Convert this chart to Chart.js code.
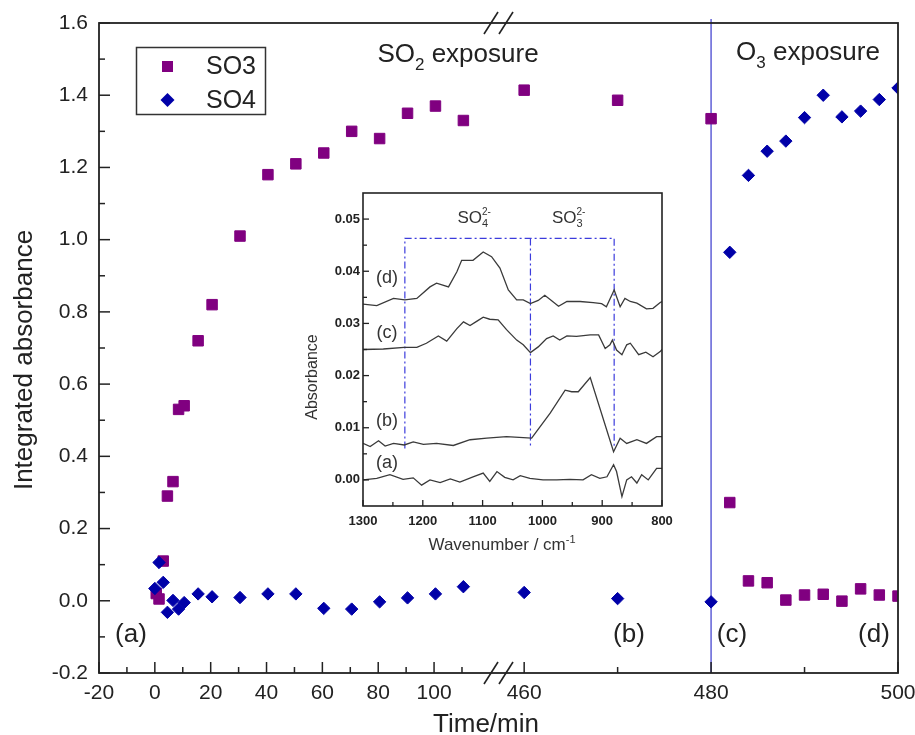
<!DOCTYPE html>
<html>
<head>
<meta charset="utf-8">
<script src="https://cdn.jsdelivr.net/npm/chart.js@4.4.0/dist/chart.umd.min.js"></script>
<style>
	body { margin: 0; background: #fff; }
	#wrap { position: relative; width: 915px; height: 735px; }
	#mainChart { position: absolute; left: 0; top: 0; }
	#insetBox { position: absolute; left: 290px; top: 180px; width: 390px; height: 380px; }
</style>
</head>
<body>
<div id="wrap">
	<canvas id="mainChart" width="915" height="735"></canvas>
	<div id="insetBox"><canvas id="insetChart" width="390" height="380"></canvas></div>
</div>
<script>
// main plot, SO2 exposure part (time in min, integrated absorbance)
var so3Time = [0.5, 1.5, 3, 4.5, 6.5, 8.5, 10.5, 15.5, 20.5, 30.5, 40.5, 50.5, 60.5, 70.5, 80.5, 90.5, 100.5, 110.5]
var so3Value = [0.02, 0.005, 0.11, 0.29, 0.33, 0.53, 0.54, 0.72, 0.82, 1.01, 1.18, 1.21, 1.24, 1.30, 1.28, 1.35, 1.37, 1.33]
var so4Time = [0, 1.5, 3, 4.5, 6.5, 8.5, 10.5, 15.5, 20.5, 30.5, 40.5, 50.5, 60.5, 70.5, 80.5, 90.5, 100.5, 110.5]
var so4Value = [0.034, 0.106, 0.051, -0.032, 0.001, -0.023, -0.005, 0.019, 0.011, 0.009, 0.019, 0.019, -0.021, -0.023, -0.003, 0.008, 0.019, 0.039]

// after the axis break (460 - 500 min), O3 switched on at 480
var lateTime = [460, 470, 480, 482, 484, 486, 488, 490, 492, 494, 496, 498, 500]
var so3Late = [1.414, 1.386, 1.335, 0.272, 0.055, 0.050, 0.002, 0.016, 0.018, -0.001, 0.033, 0.016, 0.013]
var so4Late = [0.023, 0.006, -0.003, 0.965, 1.178, 1.245, 1.273, 1.338, 1.400, 1.340, 1.356, 1.388, 1.420]
var ozoneStart = 480

// axis ticks
var leftTicks = [-20, -10, 0, 10, 20, 30, 40, 50, 60, 70, 80, 90, 100, 110]
var leftLabels = [-20, 0, 20, 40, 60, 80, 100]
var rightTicks = [460, 470, 480, 490, 500]
var rightLabels = [460, 480, 500]
var yTicks = [-0.2, -0.1, 0, 0.1, 0.2, 0.3, 0.4, 0.5, 0.6, 0.7, 0.8, 0.9, 1.0, 1.1, 1.2, 1.3, 1.4, 1.5, 1.6]
var yLabels = [-0.2, 0, 0.2, 0.4, 0.6, 0.8, 1.0, 1.2, 1.4, 1.6]

// inset: IR spectra (a)-(d), wavenumber / cm-1 and absorbance
var wnA = [1300, 1277, 1255, 1233, 1216, 1202, 1188, 1171, 1154, 1138, 1116, 1099, 1088, 1076, 1063, 1049, 1037, 1021, 999, 976, 954, 932, 918, 904, 892, 881, 876, 867, 859, 851, 842, 834, 823, 809, 800]
var absA = [0.0000, 0.0003, 0.0010, 0.0001, 0.0004, -0.0010, 0.0000, -0.0005, 0.0002, -0.0004, 0.0006, 0.0013, -0.0003, 0.0016, 0.0005, 0.0000, 0.0008, 0.0003, 0.0000, 0.0000, 0.0001, 0.0000, 0.0010, 0.0003, 0.0006, 0.0029, 0.0016, -0.0032, 0.0000, 0.0006, -0.0006, 0.0010, 0.0000, 0.0022, 0.0022]
var wnB = [1300, 1288, 1274, 1263, 1249, 1231, 1216, 1199, 1177, 1149, 1121, 1093, 1060, 1018, 987, 962, 951, 940, 920, 881, 870, 859, 842, 826, 809, 800]
var absB = [0.0070, 0.0064, 0.0075, 0.0065, 0.0070, 0.0067, 0.0073, 0.0068, 0.0070, 0.0066, 0.0077, 0.0080, 0.0083, 0.0080, 0.0128, 0.0172, 0.0169, 0.0169, 0.0196, 0.0054, 0.0080, 0.0070, 0.0077, 0.0070, 0.0083, 0.0083]
var wnC = [1300, 1266, 1231, 1210, 1194, 1174, 1160, 1143, 1132, 1121, 1110, 1099, 1088, 1074, 1060, 1043, 1032, 1020, 1007, 993, 982, 971, 959, 943, 920, 906, 895, 887, 883, 876, 867, 859, 853, 839, 827, 815, 803, 800]
var absC = [0.0250, 0.0251, 0.0254, 0.0254, 0.0262, 0.0276, 0.0266, 0.0290, 0.0303, 0.0296, 0.0304, 0.0312, 0.0308, 0.0307, 0.0288, 0.0268, 0.0259, 0.0244, 0.0255, 0.0271, 0.0276, 0.0268, 0.0276, 0.0275, 0.0278, 0.0278, 0.0252, 0.0259, 0.0268, 0.0249, 0.0240, 0.0259, 0.0262, 0.0240, 0.0245, 0.0236, 0.0246, 0.0250]
var wnD = [1300, 1277, 1249, 1230, 1210, 1188, 1177, 1157, 1143, 1135, 1116, 1099, 1085, 1071, 1057, 1043, 1032, 1020, 1007, 996, 985, 973, 959, 937, 915, 901, 893, 880, 870, 862, 853, 842, 826, 815, 803, 800]
var absD = [0.0337, 0.0334, 0.0348, 0.0345, 0.0348, 0.0370, 0.0377, 0.0370, 0.0399, 0.0421, 0.0421, 0.0437, 0.0428, 0.0406, 0.0364, 0.0345, 0.0345, 0.0338, 0.0344, 0.0354, 0.0344, 0.0333, 0.0342, 0.0342, 0.0340, 0.0338, 0.0332, 0.0364, 0.0332, 0.0348, 0.0342, 0.0339, 0.0328, 0.0329, 0.0340, 0.0342]

// dash-dot frame marking the SO4 / SO3 bands
var bandEdges = [1230, 1020, 880]
var bandTop = 0.0463
var bandBottom = 0.006

var wnTicks = [1300, 1250, 1200, 1150, 1100, 1050, 1000, 950, 900, 850, 800]
var wnLabels = [1300, 1200, 1100, 1000, 900, 800]
var absTicks = [0, 0.005, 0.01, 0.015, 0.02, 0.025, 0.03, 0.035, 0.04, 0.045, 0.05]
var absLabels = [0, 0.01, 0.02, 0.03, 0.04, 0.05]

var FONT = "'Liberation Sans', Arial, sans-serif"
var purple = "#800080"
var navy = "#0000a8"
var ink = "#222"

function zip(xs, ys) {
	return xs.map(function(x, i){ return {x: x, y: ys[i]} })
}

function fixTicks(list) {
	return function(scale){ scale.ticks = list.map(function(v){ return {value: v} }) }
}

function fixSize(prop, size) {
	return function(scale){
		scale[prop] = size
		scale.paddingLeft = 0; scale.paddingRight = 0; scale.paddingTop = 0; scale.paddingBottom = 0
	}
}

// draws small text runs (sub/superscripts). part = [text, size, dy, advance]
function richText(c, parts, x, y, align) {
	var total = 0
	parts.forEach(function(p){
		c.font = p[1] + "px " + FONT
		if (p[3]) total += c.measureText(p[0]).width
	})
	var cx = align == "center" ? x - total / 2 : x
	c.textAlign = "left"
	c.textBaseline = "alphabetic"
	parts.forEach(function(p){
		c.font = p[1] + "px " + FONT
		c.fillText(p[0], cx, y + p[2])
		if (p[3]) cx += c.measureText(p[0]).width
	})
}

function inwardTicks(chart, id, major, majorLen, minorLen, width) {
	var s = chart.scales[id], c = chart.ctx, a = chart.chartArea
	c.save()
	c.strokeStyle = ink
	c.lineWidth = width
	s.ticks.forEach(function(t){
		var len = major.indexOf(t.value) >= 0 ? majorLen : minorLen
		var p = s.getPixelForValue(t.value)
		c.beginPath()
		if (s.isHorizontal()) { c.moveTo(p, a.bottom); c.lineTo(p, a.bottom - len) }
		else { c.moveTo(a.left, p); c.lineTo(a.left + len, p) }
		c.stroke()
	})
	c.restore()
}

var mainDecor = {
	id: "mainDecor",
	beforeDatasetsDraw: function(chart) {
		var c = chart.ctx, a = chart.chartArea
		var x = chart.scales.xb.getPixelForValue(ozoneStart)
		c.save()
		c.strokeStyle = "rgb(95,95,215)"
		c.lineWidth = 1.5
		c.beginPath(); c.moveTo(x, a.top - 4); c.lineTo(x, a.bottom); c.stroke()
		c.restore()
	},
	afterDraw: function(chart) {
		var c = chart.ctx, a = chart.chartArea
		c.save()
		// frame
		c.strokeStyle = ink
		c.lineWidth = 1.8
		c.strokeRect(a.left, a.top, a.right - a.left, a.bottom - a.top)
		inwardTicks(chart, "xa", leftLabels, 11, 6, 1.5)
		inwardTicks(chart, "xb", rightLabels, 11, 6, 1.5)
		inwardTicks(chart, "y", yLabels, 11, 6, 1.5)

		// axis break marks
		var bx = chart.scales.xa.right
		c.lineWidth = 1.6
		;[a.top, a.bottom].forEach(function(by){
			;[-7, 8].forEach(function(off){
				c.beginPath()
				c.moveTo(bx + off - 7, by + 11)
				c.lineTo(bx + off + 7, by - 11)
				c.stroke()
			})
		})

		c.fillStyle = ink
		richText(c, [["SO", 26, 0, true], ["2", 17, 8, true], [" exposure", 26, 0, true]], 458, 62, "center")
		richText(c, [["O", 26, 0, true], ["3", 17, 8, true], [" exposure", 26, 0, true]], 808, 60, "center")

		c.font = "26px " + FONT
		c.textAlign = "center"
		c.textBaseline = "alphabetic"
		c.fillText("(a)", 131, 642)
		c.fillText("(b)", 629, 642)
		c.fillText("(c)", 732, 642)
		c.fillText("(d)", 874, 642)

		// axis titles
		c.fillText("Time/min", 486, 732)
		c.save()
		c.translate(32, 360)
		c.rotate(-Math.PI / 2)
		c.fillText("Integrated absorbance", 0, 0)
		c.restore()

		// legend
		var ds = chart.data.datasets
		c.strokeStyle = "#333"
		c.lineWidth = 1.5
		c.strokeRect(136.5, 47.5, 129, 67)
		c.fillStyle = ds[0].backgroundColor
		c.fillRect(162, 61, 11, 11)
		c.fillStyle = ds[1].backgroundColor
		c.beginPath()
		c.moveTo(167.5, 93); c.lineTo(174.5, 100); c.lineTo(167.5, 107); c.lineTo(160.5, 100)
		c.closePath(); c.fill()
		c.fillStyle = ink
		c.font = "25px " + FONT
		c.textAlign = "left"
		c.textBaseline = "middle"
		c.fillText(ds[0].label, 206, 67)
		c.fillText(ds[1].label, 206, 101)
		c.restore()
	}
}

var squareStyle = {pointStyle: "rect", pointRadius: 7.4, backgroundColor: purple, borderColor: purple, borderWidth: 1, order: 1, clip: 0}
var diamondStyle = {pointStyle: "rectRot", pointRadius: 6.2, backgroundColor: navy, borderColor: navy, borderWidth: 1, order: 0, clip: 0}

var tickFont = {family: FONT, size: 21}

var mainChart = new Chart(document.getElementById("mainChart").getContext("2d"), {
	type: "scatter",
	data: {
		datasets: [
			Object.assign({label: "SO3", data: zip(so3Time, so3Value), xAxisID: "xa"}, squareStyle),
			Object.assign({label: "SO4", data: zip(so4Time, so4Value), xAxisID: "xa"}, diamondStyle),
			Object.assign({label: "SO3", data: zip(lateTime, so3Late), xAxisID: "xb"}, squareStyle),
			Object.assign({label: "SO4", data: zip(lateTime, so4Late), xAxisID: "xb"}, diamondStyle)
		]
	},
	options: {
		responsive: false,
		animation: false,
		layout: {padding: {left: 0, top: 23, right: 17, bottom: 0}},
		plugins: {legend: {display: false}, tooltip: {enabled: false}},
		scales: {
			xa: {
				type: "linear", position: "bottom", stack: "time", stackWeight: 399,
				min: -20, max: 122.9,
				grid: {display: false, drawTicks: false, tickLength: 0}, border: {display: false},
				afterBuildTicks: fixTicks(leftTicks),
				afterFit: fixSize("height", 62),
				ticks: {
					autoSkip: false, maxRotation: 0, padding: 8, color: ink, font: tickFont,
					callback: function(v){ return leftLabels.indexOf(v) >= 0 ? String(v) : "" }
				}
			},
			xb: {
				type: "linear", position: "bottom", stack: "time", stackWeight: 400,
				min: 457.2, max: 500,
				grid: {display: false, drawTicks: false, tickLength: 0}, border: {display: false},
				afterBuildTicks: fixTicks(rightTicks),
				afterFit: fixSize("height", 62),
				ticks: {
					autoSkip: false, maxRotation: 0, padding: 8, color: ink, font: tickFont,
					callback: function(v){ return rightLabels.indexOf(v) >= 0 ? String(v) : "" }
				}
			},
			y: {
				type: "linear", position: "left",
				min: -0.2, max: 1.6,
				grid: {display: false, drawTicks: false, tickLength: 0}, border: {display: false},
				afterBuildTicks: fixTicks(yTicks),
				afterFit: fixSize("width", 99),
				ticks: {
					autoSkip: false, padding: 11, color: ink, font: tickFont,
					callback: function(v){ return yLabels.indexOf(v) >= 0 ? v.toFixed(1) : "" }
				}
			}
		}
	},
	plugins: [mainDecor]
})

// ---------------- inset ----------------
var insetDecor = {
	id: "insetDecor",
	afterDraw: function(chart) {
		var c = chart.ctx, a = chart.chartArea
		var sx = chart.scales.x, sy = chart.scales.y
		c.save()
		c.strokeStyle = ink
		c.lineWidth = 1.6
		c.strokeRect(a.left, a.top, a.right - a.left, a.bottom - a.top)
		inwardTicks(chart, "x", wnLabels, 6, 4, 1.3)
		inwardTicks(chart, "y", absLabels, 6, 4, 1.3)

		c.fillStyle = "#333"
		c.font = "18px " + FONT
		c.textAlign = "center"
		c.textBaseline = "middle"
		var lx = sx.getPixelForValue(1260)
		c.fillText("(d)", lx, sy.getPixelForValue(0.0387))
		c.fillText("(c)", lx, sy.getPixelForValue(0.0281))
		c.fillText("(b)", lx, sy.getPixelForValue(0.0112))
		c.fillText("(a)", lx, sy.getPixelForValue(0.0033))

		var ty = sy.getPixelForValue(0.0492)
		richText(c, [["SO", 17, 0, true], ["4", 11, 4, false], ["2-", 10, -8, true]], sx.getPixelForValue(1114), ty, "center")
		richText(c, [["SO", 17, 0, true], ["3", 11, 4, false], ["2-", 10, -8, true]], sx.getPixelForValue(956), ty, "center")

		richText(c, [["Wavenumber / cm", 17, 0, true], ["-1", 11, -7, true]], 212, 370, "center")
		c.save()
		c.translate(23, 197)
		c.rotate(-Math.PI / 2)
		c.font = "16px " + FONT
		c.textAlign = "center"
		c.textBaseline = "middle"
		c.fillText("Absorbance", 0, 0)
		c.restore()
		c.restore()
	}
}

var spectrumStyle = {showLine: true, borderColor: "#3a3a3a", borderWidth: 1.3, pointRadius: 0, tension: 0}
var bandStyle = {showLine: true, borderColor: "#3c3cdc", borderWidth: 1.2, borderDash: [7, 3, 2, 3], pointRadius: 0, tension: 0}

var insetChart = new Chart(document.getElementById("insetChart").getContext("2d"), {
	type: "scatter",
	data: {
		datasets: [
			Object.assign({label: "(a)", data: zip(wnA, absA)}, spectrumStyle),
			Object.assign({label: "(b)", data: zip(wnB, absB)}, spectrumStyle),
			Object.assign({label: "(c)", data: zip(wnC, absC)}, spectrumStyle),
			Object.assign({label: "(d)", data: zip(wnD, absD)}, spectrumStyle),
			Object.assign({label: "bands", data: [
				{x: bandEdges[0], y: bandBottom}, {x: bandEdges[0], y: bandTop},
				{x: bandEdges[2], y: bandTop}, {x: bandEdges[2], y: bandBottom}
			]}, bandStyle),
			Object.assign({label: "split", data: [
				{x: bandEdges[1], y: bandTop}, {x: bandEdges[1], y: bandBottom}
			]}, bandStyle)
		]
	},
	options: {
		responsive: false,
		animation: false,
		layout: {padding: {left: 0, top: 13, right: 18, bottom: 0}},
		plugins: {legend: {display: false}, tooltip: {enabled: false}},
		scales: {
			x: {
				type: "linear", reverse: true, min: 800, max: 1300,
				grid: {display: false, drawTicks: false, tickLength: 0}, border: {display: false},
				afterBuildTicks: fixTicks(wnTicks),
				afterFit: fixSize("height", 54),
				ticks: {
					autoSkip: false, maxRotation: 0, padding: 8, color: ink,
					font: {family: FONT, size: 13, weight: "bold"},
					callback: function(v){ return wnLabels.indexOf(v) >= 0 ? String(v) : "" }
				}
			},
			y: {
				type: "linear", min: -0.005, max: 0.055,
				grid: {display: false, drawTicks: false, tickLength: 0}, border: {display: false},
				afterBuildTicks: fixTicks(absTicks),
				afterFit: fixSize("width", 73),
				ticks: {
					autoSkip: false, padding: 3, color: ink,
					font: {family: FONT, size: 13, weight: "bold"},
					callback: function(v){ return absLabels.indexOf(v) >= 0 ? v.toFixed(2) : "" }
				}
			}
		}
	},
	plugins: [insetDecor]
})
</script>
</body>
</html>
